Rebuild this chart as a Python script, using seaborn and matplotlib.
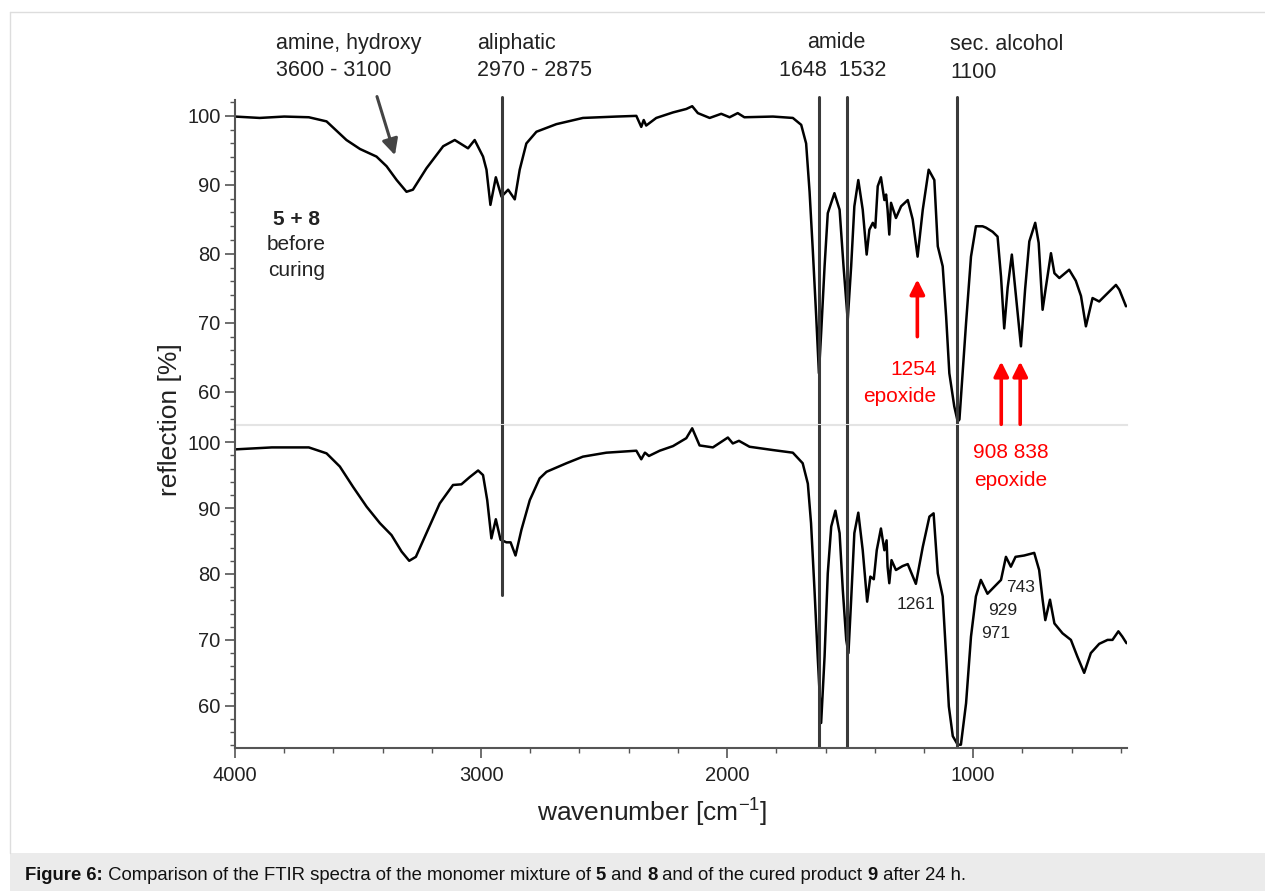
import numpy as np
import pandas as pd
import matplotlib
matplotlib.use("Agg")
import matplotlib.pyplot as plt
from matplotlib.patches import Rectangle
from matplotlib.ticker import MultipleLocator
import seaborn as sns

# --- Data (wavenumber in cm-1, reflection in %) ---
upper_wn = [4000, 3900, 3800, 3700, 3628, 3547, 3492, 3425, 3384, 3343,
            3303, 3277, 3222, 3154, 3107, 3053, 3026, 2992, 2978, 2962,
            2940, 2917, 2890, 2863, 2843, 2816, 2775, 2694, 2586, 2450,
            2369, 2349, 2339, 2329, 2288, 2220, 2166, 2142, 2119, 2071,
            2024, 1990, 1957, 1930, 1814, 1733, 1699, 1679, 1665, 1652,
            1638, 1627, 1618, 1604, 1591, 1564, 1543, 1527, 1510, 1496,
            1483, 1467, 1449, 1433, 1422, 1408, 1398, 1388, 1375, 1361,
            1354, 1348, 1341, 1334, 1314, 1293, 1266, 1246, 1226, 1205,
            1181, 1158, 1144, 1124, 1110, 1097, 1077, 1063, 1056, 1029,
            1009, 989, 962, 948, 921, 901, 887, 874, 860, 843,
            826, 806, 789, 772, 748, 734, 718, 705, 684, 670,
            650, 610, 583, 562, 542, 515, 488, 454, 420, 406,
            379]
upper_val = [99.9, 99.7, 99.9, 99.8, 99.2, 96.5, 95.2, 94.1, 92.7, 90.7,
             89.0, 89.3, 92.4, 95.6, 96.5, 95.3, 96.5, 94.1, 92.2, 87.1,
             91.1, 88.3, 89.3, 87.9, 92.2, 96.0, 97.7, 98.8, 99.7, 99.9,
             100.0, 98.4, 99.4, 98.6, 99.7, 100.5, 101.0, 101.4, 100.4, 99.7,
             100.3, 99.8, 100.4, 99.8, 99.9, 99.7, 98.7, 96.0, 89.0, 80.6,
             70.9, 62.7, 68.5, 78.2, 85.9, 88.8, 86.4, 78.2, 70.4, 78.2,
             86.9, 90.7, 86.4, 79.9, 83.5, 84.5, 83.8, 89.8, 91.1, 87.8,
             88.6, 86.4, 82.8, 87.4, 85.2, 86.9, 87.8, 85.0, 79.6, 86.4,
             92.2, 90.7, 81.1, 78.2, 70.9, 62.7, 57.9, 55.7, 56.0, 70.0,
             79.6, 84.0, 84.0, 83.8, 83.2, 82.5, 76.7, 69.2, 75.1, 79.9,
             73.8, 66.6, 74.9, 81.8, 84.5, 81.6, 71.9, 75.1, 80.1, 77.2,
             76.5, 77.7, 76.1, 73.9, 69.5, 73.6, 73.1, 74.3, 75.5, 74.8,
             72.4]

lower_wn = [4000, 3850, 3700, 3628, 3574, 3520, 3465, 3411, 3364, 3323,
            3292, 3265, 3222, 3168, 3114, 3080, 3046, 3012, 2992, 2975,
            2958, 2940, 2921, 2897, 2880, 2860, 2836, 2802, 2762, 2734,
            2653, 2586, 2491, 2369, 2349, 2334, 2318, 2274, 2220, 2166,
            2142, 2112, 2058, 1997, 1977, 1952, 1909, 1814, 1733, 1693,
            1672, 1659, 1645, 1632, 1618, 1604, 1591, 1577, 1560, 1543,
            1530, 1516, 1507, 1496, 1483, 1467, 1449, 1431, 1418, 1404,
            1392, 1375, 1361, 1352, 1348, 1341, 1332, 1314, 1287, 1266,
            1233, 1205, 1178, 1161, 1144, 1124, 1110, 1099, 1083, 1063,
            1050, 1029, 1009, 989, 969, 942, 908, 887, 867, 847,
            828, 793, 752, 732, 718, 707, 688, 670, 637, 603,
            577, 549, 522, 488, 454, 434, 410, 394, 377]
lower_val = [98.9, 99.2, 99.2, 98.3, 96.3, 93.2, 90.2, 87.7, 85.9, 83.4,
             82.0, 82.6, 86.2, 90.7, 93.5, 93.6, 94.7, 95.7, 95.0, 91.2,
             85.4, 88.3, 85.2, 84.8, 84.8, 82.8, 86.7, 91.2, 94.5, 95.5,
             96.8, 97.8, 98.4, 98.7, 97.4, 98.4, 97.9, 98.7, 99.4, 100.6,
             102.1, 99.5, 99.2, 100.7, 99.8, 100.2, 99.3, 98.8, 98.4, 96.8,
             93.7, 87.7, 77.6, 67.5, 57.4, 67.5, 80.1, 87.2, 89.6, 86.2,
             77.6, 70.0, 68.0, 76.1, 86.2, 89.3, 83.6, 75.8, 79.6, 79.2,
             83.6, 86.9, 83.6, 85.1, 81.1, 78.6, 82.1, 80.6, 81.2, 81.5,
             78.5, 84.1, 88.7, 89.2, 80.1, 76.6, 67.5, 59.9, 55.4, 54.1,
             54.1, 60.4, 70.5, 76.6, 79.1, 77.0, 78.3, 79.1, 82.6, 81.1,
             82.6, 82.8, 83.2, 80.6, 76.1, 73.0, 76.1, 72.5, 71.0, 70.0,
             67.5, 65.0, 68.0, 69.4, 70.0, 70.0, 71.3, 70.5, 69.5]

# marker lines drawn at the band positions
band_lines = [2916, 1625, 1511, 1065]
epoxide_upper = [1227]
epoxide_lower = [886, 809]

sns.set_style("ticks")
plt.rcParams['font.family'] = ['Liberation Sans', 'DejaVu Sans']
plt.rcParams['mathtext.fontset'] = 'custom'
plt.rcParams['mathtext.rm'] = 'Liberation Sans'
plt.rcParams['mathtext.default'] = 'regular'
TXT = '#222222'
AX = '#555555'

W, H = 1265, 891
fig = plt.figure(figsize=(W / 100, H / 100), dpi=100)


def px(x, y):
    return x / W, 1 - y / H


left, right = 235, 1127
ax_top = fig.add_axes([left / W, 1 - 425 / H, (right - left) / W, 325 / H])
ax_bot = fig.add_axes([left / W, 1 - 748 / H, (right - left) / W, 323 / H])

top_df = pd.DataFrame({'wn': upper_wn, 'refl': upper_val})
bot_df = pd.DataFrame({'wn': lower_wn, 'refl': lower_val})
sns.lineplot(data=top_df, x='wn', y='refl', sort=False, estimator=None,
             color='black', lw=1.8, ax=ax_top)
sns.lineplot(data=bot_df, x='wn', y='refl', sort=False, estimator=None,
             color='black', lw=1.8, ax=ax_bot)

for ax, ylo, yhi in [(ax_top, 55.2, 102.3), (ax_bot, 53.6, 102.6)]:
    ax.set_xlim(4000, 375)
    ax.set_ylim(ylo, yhi)
    ax.set_xlabel('')
    ax.set_ylabel('')
    ax.yaxis.set_major_locator(MultipleLocator(10))
    ax.yaxis.set_minor_locator(MultipleLocator(2))
    ax.xaxis.set_major_locator(MultipleLocator(1000))
    ax.xaxis.set_minor_locator(MultipleLocator(200))
    ax.tick_params(axis='both', which='major', length=7, width=1.2, color=AX,
                   labelsize=14.5, labelcolor=TXT)
    ax.tick_params(axis='both', which='minor', length=3.5, width=1, color=AX)
    ax.tick_params(axis='x', which='major', pad=6)
    ax.set_yticks([60, 70, 80, 90, 100])
    for s in ['top', 'right']:
        ax.spines[s].set_visible(False)
    ax.spines['left'].set_color(AX)
    ax.spines['left'].set_linewidth(1.5)
    ax.spines['bottom'].set_color(AX)
    ax.spines['bottom'].set_linewidth(1.5)
    ax.patch.set_alpha(0)

ax_top.spines['bottom'].set_color('#e4e4e4')
ax_top.tick_params(axis='x', which='both', bottom=False, labelbottom=False)
ax_bot.set_xticks([4000, 3000, 2000, 1000])

# band marker lines
for wn in band_lines:
    ax_top.axvline(wn, ymin=0, ymax=1.01, color='#3a3a3a', lw=2.2, clip_on=False)
    if wn == 2916:
        ax_bot.axvline(wn, ymin=(76.8 - 53.6) / (102.6 - 53.6), ymax=1,
                       color='#3a3a3a', lw=2.2)
    else:
        ax_bot.axvline(wn, ymin=0, ymax=1, color='#3a3a3a', lw=2.2)

# epoxide arrows
red = '#ff0000'
arrow_kw = dict(arrowstyle='-|>', color=red, lw=2.6, mutation_scale=22,
                shrinkA=0, shrinkB=0)
for wn in epoxide_upper:
    ax_top.annotate('', xy=(wn, 76.3), xytext=(wn, 68.0), arrowprops=arrow_kw)
for wn in epoxide_lower:
    ax_top.annotate('', xy=(wn, 64.4), xytext=(wn, 55.3), arrowprops=arrow_kw,
                    annotation_clip=False)
ax_top.text(1150, 63.2, '1254', color=red, fontsize=15, ha='right', va='center')
ax_top.text(1150, 59.3, 'epoxide', color=red, fontsize=15, ha='right', va='center')
ax_bot.text(849, 98.5, '908 838', color=red, fontsize=15, ha='center', va='center')
ax_bot.text(849, 94.2, 'epoxide', color=red, fontsize=15, ha='center', va='center')

# grey arrow to the OH/NH band
ax_top.annotate('', xy=(3350, 94.3), xytext=(3423, 102.8),
                arrowprops=dict(arrowstyle='-|>', color='#444444', lw=2.2,
                                mutation_scale=24, shrinkA=0, shrinkB=0),
                annotation_clip=False)

# sample label
ax_top.text(3750, 85.0, '5 + 8', fontsize=15, fontweight='bold', ha='center',
            va='center', color=TXT)
ax_top.text(3750, 81.3, 'before', fontsize=15, ha='center', va='center', color=TXT)
ax_top.text(3750, 77.6, 'curing', fontsize=15, ha='center', va='center', color=TXT)

# lower band labels
for lab, wn, y in [('1261', 1231, 75.3), ('743', 809, 77.9),
                   ('929', 882, 74.4), ('971', 910, 70.9)]:
    ax_bot.text(wn, y, lab, fontsize=12.5, ha='center', va='center', color=TXT)

# top band assignments
top_labels = [
    ('amine, hydroxy', 276, 43, 'left'), ('3600 - 3100', 276, 70, 'left'),
    ('aliphatic', 477, 43, 'left'), ('2970 - 2875', 477, 70, 'left'),
    ('amide', 836, 43, 'center'), ('1648  1532', 833, 70, 'center'),
    ('sec. alcohol', 950, 44, 'left'), ('1100', 950, 72, 'left'),
]
for s, x, y, ha in top_labels:
    fig.text(*px(x, y), s, fontsize=15.5, ha=ha, va='center', color=TXT)

fig.text(*px(170, 420), 'reflection [%]', rotation=90, fontsize=19,
         ha='center', va='center', color=TXT)
fig.text(*px(652, 813), 'wavenumber [cm$^{-1}$]', fontsize=19,
         ha='center', va='center', color=TXT)

# frame and caption bar
fig.add_artist(plt.Line2D([10 / W, 10 / W], [1 - 12 / H, 1 - 853 / H],
                          color='#dddddd', lw=1))
fig.add_artist(plt.Line2D([10 / W, 1], [1 - 12 / H, 1 - 12 / H],
                          color='#dddddd', lw=1))
fig.add_artist(Rectangle((10 / W, 0), 1 - 10 / W, 38 / H, transform=fig.transFigure,
                         facecolor='#ebebeb', edgecolor='none'))

caption = [('Figure 6:', 'bold'), (' Comparison of the FTIR spectra of the monomer mixture of ', 'normal'),
           ('5', 'bold'), (' and ', 'normal'), ('8', 'bold'),
           (' and of the cured product ', 'normal'), ('9', 'bold'), (' after 24 h.', 'normal')]
renderer = fig.canvas.get_renderer()
cx, cy = px(25, 876)
for s, wt in caption:
    t = fig.text(cx, cy, s, fontsize=13.3, fontweight=wt, ha='left', va='center',
                 color='#111111')
    bb = t.get_window_extent(renderer)
    cx += bb.width / W

fig.savefig('out.png', dpi=100)
